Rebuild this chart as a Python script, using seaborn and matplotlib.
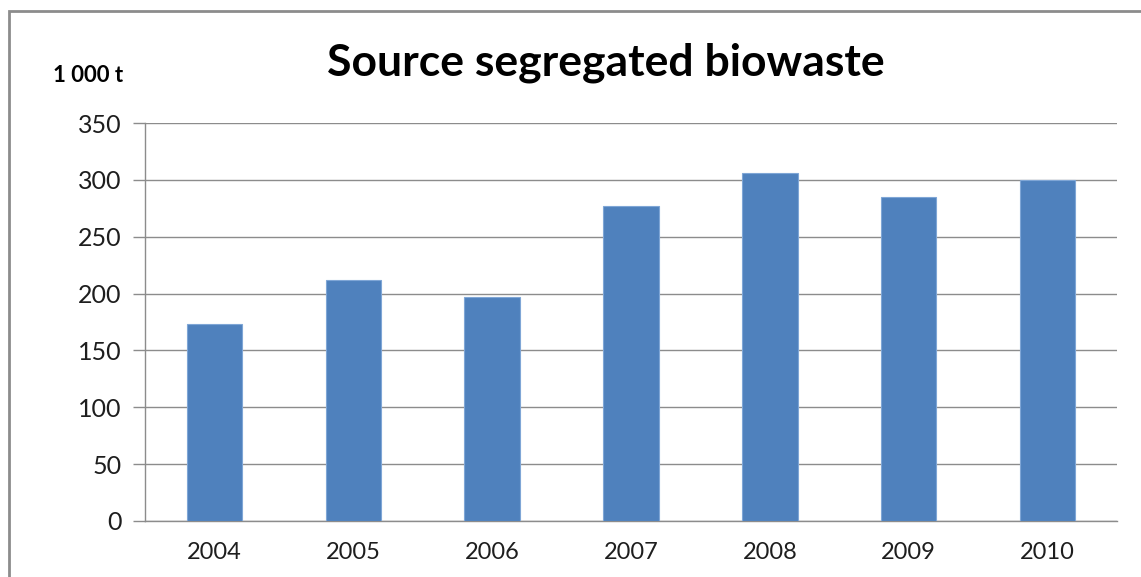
import matplotlib
matplotlib.use("Agg")
import matplotlib.pyplot as plt
from matplotlib.patches import Rectangle
import seaborn as sns
import pandas as pd

years = ["2004", "2005", "2006", "2007", "2008", "2009", "2010"]
biowaste = [173, 212, 197, 277, 306, 285, 300]
y_ticks = [0, 50, 100, 150, 200, 250, 300, 350]

title = "Source segregated biowaste"
unit_label = "1 000 t"

sns.set_theme(style="white")
plt.rcParams["font.family"] = ["Lato", "DejaVu Sans"]

W, H = 1141, 577
fig = plt.figure(figsize=(W / 100, H / 100), dpi=100)
fig.patch.set_facecolor("white")

# plot area in pixel terms
left, right, top, bottom = 145, 1117, 123, 521
ax = fig.add_axes([left / W, 1 - bottom / H, (right - left) / W, (bottom - top) / H])

df = pd.DataFrame({"year": years, "value": biowaste})
sns.barplot(data=df, x="year", y="value", color="#4f81bd", saturation=1,
            width=0.40, edgecolor="#7fa6d6", linewidth=0.8, ax=ax, zorder=3)

ax.set_xlim(-0.5, len(years) - 0.5)
ax.set_ylim(0, 350)
ax.set_yticks(y_ticks)
ax.set_yticklabels([str(v) for v in y_ticks])
ax.set_xlabel("")
ax.set_ylabel("")

ax.grid(axis="y", color="#8c8c8c", linewidth=1.0, zorder=0)
ax.set_axisbelow(True)
for s in ["top", "right"]:
    ax.spines[s].set_visible(False)
for s in ["left", "bottom"]:
    ax.spines[s].set_color("#8c8c8c")
    ax.spines[s].set_linewidth(1.0)

# category boundary ticks on x axis
ax.set_xticks([i + 0.5 for i in range(-1, len(years))], minor=True)
ax.tick_params(axis="x", which="minor", length=7, width=1, color="#8c8c8c", direction="out")
ax.tick_params(axis="x", which="major", length=0, pad=15, labelsize=17, labelcolor="#1e1e1e")
ax.tick_params(axis="y", which="major", length=9, width=1, color="#8c8c8c", direction="out",
               pad=8, labelsize=18, labelcolor="#1e1e1e")
ax.tick_params(left=True, bottom=True)
ax.tick_params(axis="x", which="major", bottom=False)

fig.text(606 / W, 1 - 63 / H, title, ha="center", va="center",
         fontsize=32, fontweight="bold", color="black")
fig.text(88 / W, 1 - 76 / H, unit_label, ha="center", va="center",
         fontsize=16, fontweight="bold", color="black")

# outer chart frame
fig.patches.append(Rectangle((9 / W, -0.05), 1.1, 1 - 11 / H + 0.05, transform=fig.transFigure,
                             fill=False, edgecolor="#8c8c8c", linewidth=2))

fig.savefig("out.png", dpi=100, facecolor="white")
